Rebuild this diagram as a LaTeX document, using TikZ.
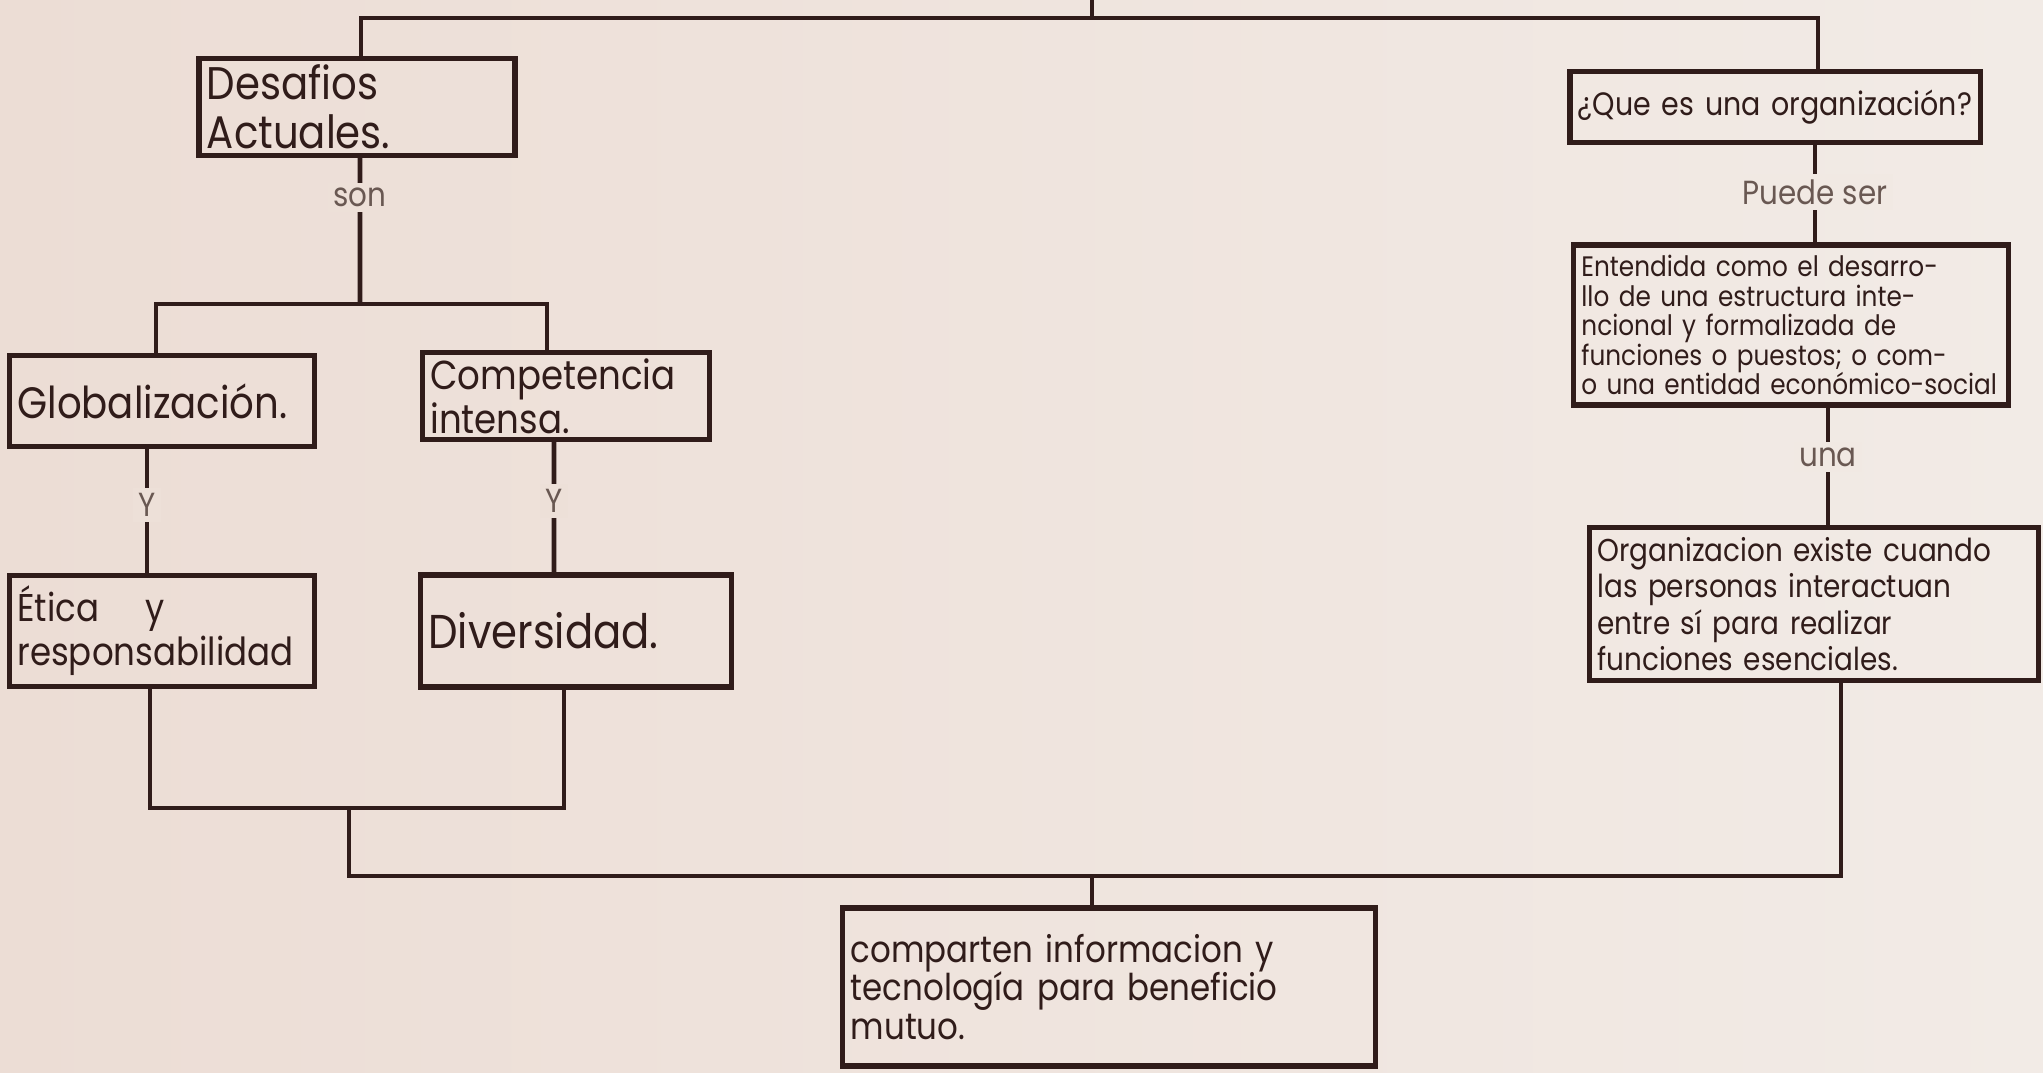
\documentclass[tikz,border=0pt]{standalone}
\usepackage{fontspec}
\setmainfont{Poppins}[FakeStretch=0.88]
\usetikzlibrary{positioning}
\definecolor{paperL}{RGB}{236,221,213}
\definecolor{paperR}{RGB}{242,235,230}
\definecolor{ink}{RGB}{48,28,26}
\definecolor{pencil}{RGB}{105,88,82}

\begin{document}
\begin{tikzpicture}[x=0.01cm,y=-0.01cm,
	box/.style={draw=ink,line width=1.5pt,text=ink,align=left,inner xsep=0.08cm,inner ysep=0pt},
	lbl/.style={fill=paperL!80!paperR,text=pencil,inner sep=1.5pt,font=\fontsize{9.5}{9.5}\selectfont},
	lblR/.style={lbl,fill=paperL!15!paperR},
	link/.style={draw=ink,line width=1.3pt}]
	\useasboundingbox (0,0) rectangle (2043,1072);
	\fill[left color=paperL,right color=paperR] (0,0) rectangle (2043,1072);
	%
	\node[box,minimum width=3.16cm,minimum height=0.97cm,text width=3.0cm,font=\fontsize{13}{14}\selectfont] (desafios) at (357,107) {Desafios\\Actuales.};
	\node[box,minimum width=3.05cm,minimum height=0.91cm,text width=2.89cm,font=\fontsize{12.5}{12}\selectfont] (globalizacion) at (162,401) {Globalización.};
	\node[box,minimum width=2.87cm,minimum height=0.87cm,text width=2.71cm,font=\fontsize{11.5}{12.5}\selectfont] (competencia) at (566,396) {Competencia\\intensa.};
	\node[box,minimum width=3.05cm,minimum height=1.11cm,text width=2.89cm,font=\fontsize{11}{12.5}\selectfont] (etica) at (162,631) {Ética\hspace{1.2em}y\\responsabilidad};
	\node[box,minimum width=3.11cm,minimum height=1.12cm,text width=2.95cm,font=\fontsize{13.5}{13}\selectfont] (diversidad) at (576,631) {Diversidad.};
	\node[box,minimum width=5.32cm,minimum height=1.58cm,text width=5.16cm,font=\fontsize{10.5}{11}\selectfont] (compartir) at (1109,987) {comparten informacion y\\tecnología para beneficio\\mutuo.};
	%
	\node[box,minimum width=4.10cm,minimum height=0.71cm,text width=3.94cm,font=\fontsize{9.2}{9}\selectfont] (pregunta) at (1775,107) {¿Que es una organización?};
	\node[box,minimum width=4.35cm,minimum height=1.60cm,text width=4.19cm,font=\fontsize{8}{8.4}\selectfont] (entendida) at (1791,325) {Entendida como el desarro-\\llo de una estructura inte-\\ncional y formalizada de\\funciones o puestos; o com-\\o una entidad económico-social};
	\node[box,minimum width=4.49cm,minimum height=1.53cm,text width=4.33cm,font=\fontsize{9}{9}\selectfont] (organizacion) at (1814,604) {Organizacion existe cuando\\las personas interactuan\\entre sí para realizar\\funciones esenciales.};
	%
	\coordinate (topin) at (1092,0);
	\coordinate (top) at (1092,18);
	\coordinate (fork) at (360,304);
	\coordinate (join) at (349,808);
	\coordinate (base) at (349,876);
	\coordinate (mid) at (1092,876);
	%
	\draw[link] (topin) -- (top);
	\draw[link] ([xshift=0.04cm]desafios.north) |- (top) -| ([xshift=0.43cm]pregunta.north);
	%
	\path[link] ([xshift=0.03cm]desafios.south) edge node[lbl,pos=.27]{son} (fork);
	\draw[link] ([xshift=-0.06cm]globalizacion.north) |- (fork) -| ([xshift=-0.19cm]competencia.north);
	\path[link] ([xshift=-0.15cm]globalizacion.south) edge node[lbl,pos=.45]{Y} ([xshift=-0.15cm]etica.north)
		([xshift=-0.12cm]competencia.south) edge node[lbl,pos=.45]{Y} ([xshift=-0.22cm]diversidad.north);
	%
	\draw[link] ([xshift=-0.12cm]etica.south) |- (join) -| ([xshift=-0.12cm]diversidad.south);
	\draw[link] (join) -- (base) -| ([xshift=0.27cm]organizacion.south);
	\draw[link] (mid) -- (mid |- compartir.north);
	%
	\path[link] ([xshift=0.4cm]pregunta.south) edge node[lblR,pos=.48]{Puede ser} ([xshift=0.4cm]pregunta.south |- entendida.north)
		([xshift=0.37cm]entendida.south) edge node[lblR,pos=.42]{una} ([xshift=0.37cm]entendida.south |- organizacion.north);
\end{tikzpicture}
\end{document}
